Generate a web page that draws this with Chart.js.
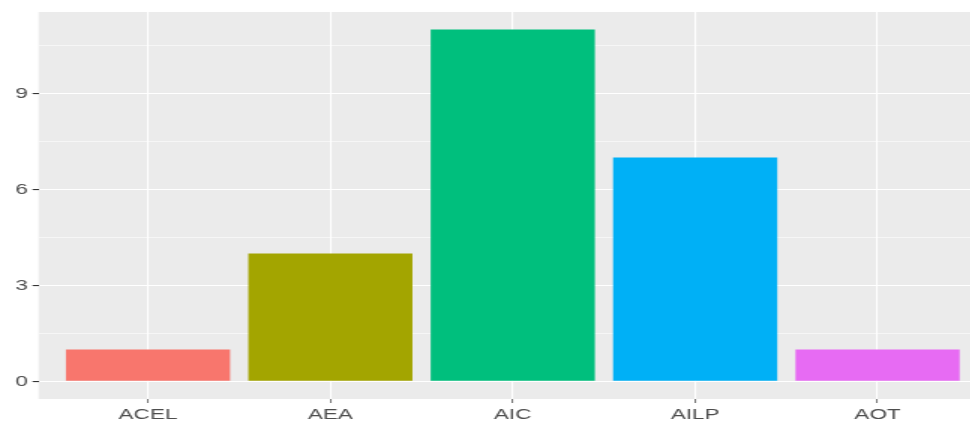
<!DOCTYPE html>
<html>
<head>
<meta charset="utf-8">
<script src="https://cdn.jsdelivr.net/npm/chart.js@4"></script>
<style>
  html, body { margin: 0; padding: 0; background: #fff; overflow: hidden; }
  /* the reference is stretched horizontally, so draw narrow and widen */
  #wrap { width: 662px; height: 421px; transform: scaleX(1.5); transform-origin: 0 0; }
</style>
</head>
<body>
<div id="wrap"><canvas id="chart"></canvas></div>
<script>
// ========================================
// Data
// ========================================
const categories = ['ACEL', 'AEA', 'AIC', 'AILP', 'AOT'];
const counts = [1, 4, 11, 7, 1];
const yTicks = [0, 1.5, 3, 4.5, 6, 7.5, 9, 10.5];
const yLabels = [0, 3, 6, 9];

// ggplot hue palette for 5 groups
const colors = {
    bars: ['#F8766D', '#A3A500', '#00BF7D', '#00B0F6', '#E76BF3'],
    panel: '#EBEBEB',
    grid: '#FFFFFF',
    tick: '#333333',
    text: '#4D4D4D'
};

Chart.defaults.font.family = "'Liberation Sans', Arial, sans-serif";
Chart.defaults.font.size = 15;
Chart.defaults.color = colors.text;

// grey panel behind the grid
const panelBg = {
    id: 'panelBg',
    beforeDraw(chart) {
        const a = chart.chartArea;
        const ctx = chart.ctx;
        ctx.save();
        ctx.fillStyle = colors.panel;
        ctx.fillRect(a.left, a.top, a.right - a.left, a.bottom - a.top);
        ctx.restore();
    }
};

const isMajor = (v) => yLabels.includes(v);

new Chart(document.getElementById('chart'), {
    type: 'bar',
    data: {
        datasets: [{
            data: categories.map((c, i) => ({ x: i + 1, y: counts[i] })),
            backgroundColor: colors.bars,
            borderWidth: 0,
            barPercentage: 0.9,
            categoryPercentage: 1
        }]
    },
    options: {
        responsive: true,
        maintainAspectRatio: false,
        animation: false,
        layout: { padding: { top: 11, right: 4, left: 0, bottom: 0 } },
        plugins: { legend: { display: false }, tooltip: { enabled: false } },
        scales: {
            x: {
                type: 'linear',
                min: 0.4,
                max: 5.6,
                offset: false,
                afterBuildTicks: (axis) => {
                    axis.ticks = categories.map((c, i) => ({ value: i + 1 }));
                },
                afterFit: (axis) => { axis.height = 22; },
                border: { display: false },
                grid: {
                    offset: false,
                    color: colors.grid,
                    lineWidth: 1.1,
                    tickColor: colors.tick,
                    tickLength: 4,
                    tickWidth: 0.7
                },
                ticks: {
                    autoSkip: false,
                    maxRotation: 0,
                    padding: 3,
                    color: colors.text,
                    callback: (v) => categories[Math.round(v) - 1] || ''
                }
            },
            y: {
                min: -0.55,
                max: 11.55,
                afterBuildTicks: (axis) => {
                    axis.ticks = yTicks.map(v => ({ value: v }));
                },
                afterFit: (axis) => { axis.width = 25.7; },
                border: { display: false },
                grid: {
                    color: colors.grid,
                    lineWidth: (ctx) => isMajor(ctx.tick.value) ? 1.1 : 0.55,
                    tickColor: (ctx) => isMajor(ctx.tick.value) ? colors.tick : 'rgba(0,0,0,0)',
                    tickLength: 4,
                    tickWidth: 1.1
                },
                ticks: {
                    padding: 3,
                    color: colors.text,
                    callback: (v) => isMajor(v) ? String(v) : ''
                }
            }
        }
    },
    plugins: [panelBg]
});
</script>
</body>
</html>
